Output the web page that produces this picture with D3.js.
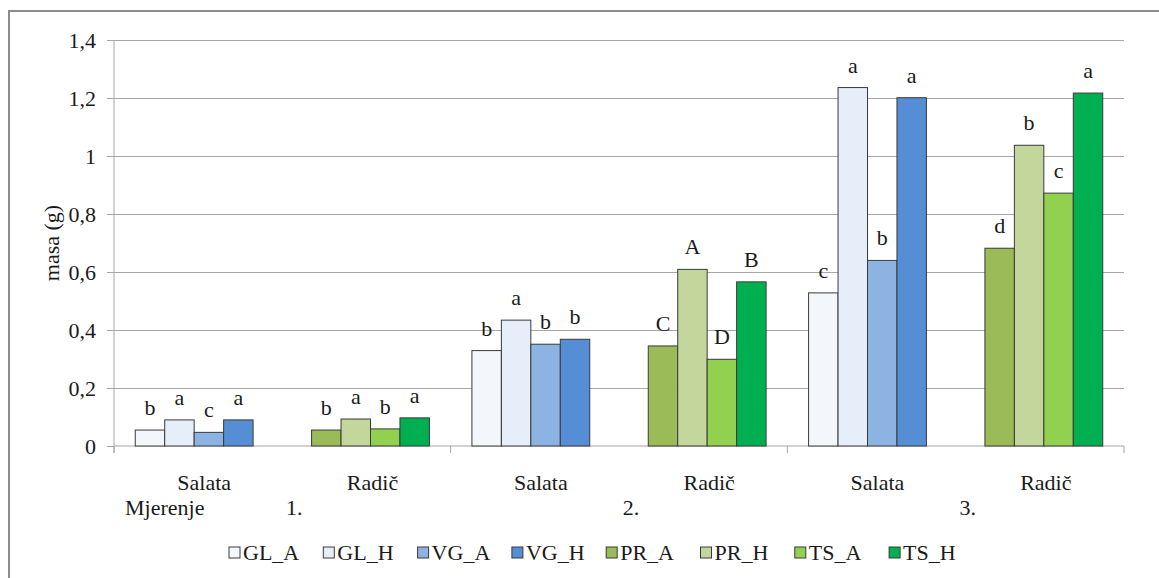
<!DOCTYPE html>
<html lang="hr">
<head>
  <meta charset="UTF-8">
  <title>masa (g) - Salata / Radič</title>
  <script src="https://d3js.org/d3.v7.min.js"></script>
  <style>
    body { margin: 0; background: #fff; }
    svg, svg text { font-family: "Liberation Serif", "Times New Roman", serif; }
    .grid line { stroke: #a6a6a6; stroke-width: 1; }
    .grid .domain { display: none; }
    .yaxis .domain { display: none; }
    .yaxis line { stroke: #a6a6a6; }
    .yaxis text { font-size: 22px; fill: #1a1a1a; }
    .bar { stroke: #3a3a3a; stroke-width: 1; }
    .lbl { font-size: 22px; fill: #1a1a1a; text-anchor: middle; }
  </style>
</head>
<body>
  <svg width="1159" height="578"></svg>

  <script>
    // --- data ---
    const categories = ["Salata", "Radič", "Salata", "Radič", "Salata", "Radič"];
    const measurements = ["1.", "2.", "3."];
    const seriesNames = ["GL_A", "GL_H", "VG_A", "VG_H", "PR_A", "PR_H", "TS_A", "TS_H"];
    const salataSeries = ["GL_A", "GL_H", "VG_A", "VG_H"];
    const radicSeries = ["PR_A", "PR_H", "TS_A", "TS_H"];
    const barValues = [
      [0.055, 0.090, 0.047, 0.090],
      [0.055, 0.093, 0.059, 0.097],
      [0.329, 0.434, 0.351, 0.368],
      [0.345, 0.609, 0.299, 0.566],
      [0.528, 1.236, 0.640, 1.201],
      [0.682, 1.037, 0.872, 1.217]
    ];
    const barLetters = [
      ["b", "a", "c", "a"],
      ["b", "a", "b", "a"],
      ["b", "a", "b", "b"],
      ["C", "A", "D", "B"],
      ["c", "a", "b", "a"],
      ["d", "b", "c", "a"]
    ];
    const yTicks = [0, 0.2, 0.4, 0.6, 0.8, 1, 1.2, 1.4];

    // --- styles ---
    const seriesColors = {
      GL_A: "#f3f7fc", GL_H: "#e6eef9", VG_A: "#8db3e2", VG_H: "#558ed5",
      PR_A: "#9bbb59", PR_H: "#c3d69b", TS_A: "#92d050", TS_H: "#00b050"
    };
    const cropShift = { "Salata": -4, "Radič": 4 };
    const serif = "Liberation Serif, Times New Roman, serif";

    const svg = d3.select("svg");
    const plot = { left: 114, right: 1124, top: 40, bottom: 446 };

    // outer frame (top and left edges visible)
    svg.append("rect")
      .attr("x", 9).attr("y", 11)
      .attr("width", 1200).attr("height", 600)
      .attr("fill", "none").attr("stroke", "#8c8c8c").attr("stroke-width", 2);

    const y = d3.scaleLinear().domain([0, 1.4]).range([plot.bottom, plot.top]);

    const x0 = d3.scaleBand()
      .domain(d3.range(categories.length))
      .range([plot.left, plot.right])
      .paddingInner(0.3)
      .paddingOuter(0.15);

    const x1 = d3.scaleBand()
      .domain(d3.range(4))
      .range([0, x0.bandwidth()]);

    // gridlines
    svg.append("g")
      .attr("class", "grid")
      .attr("transform", `translate(${plot.left},0)`)
      .call(d3.axisLeft(y).tickValues(yTicks.slice(1)).tickSize(-(plot.right - plot.left)).tickFormat(""));

    // y axis ticks + labels
    svg.append("g")
      .attr("class", "yaxis")
      .attr("transform", `translate(${plot.left},0)`)
      .call(d3.axisLeft(y).tickValues(yTicks).tickSize(7).tickPadding(11)
        .tickFormat(v => String(v).replace(".", ",")))
      .attr("font-family", serif)
      .attr("font-size", 22);

    // axis lines
    svg.append("line")
      .attr("x1", plot.left).attr("x2", plot.left)
      .attr("y1", y(1.4)).attr("y2", y(0) + 7)
      .attr("stroke", "#a6a6a6");
    svg.append("line")
      .attr("x1", plot.left).attr("x2", plot.right)
      .attr("y1", y(0)).attr("y2", y(0))
      .attr("stroke", "#a6a6a6");

    // ticks between measurements
    const step = x0.step();
    svg.append("g").selectAll("line")
      .data(d3.range(measurements.length + 1))
      .join("line")
      .attr("x1", i => plot.left + i * 2 * step)
      .attr("x2", i => plot.left + i * 2 * step)
      .attr("y1", y(0)).attr("y2", y(0) + 7)
      .attr("stroke", "#a6a6a6");

    // bars
    const groups = svg.append("g").selectAll("g")
      .data(categories.map((c, i) => ({ crop: c, idx: i })))
      .join("g")
      .attr("transform", d => `translate(${x0(d.idx) + cropShift[d.crop]},0)`);

    groups.each(function (g) {
      const names = g.crop === "Salata" ? salataSeries : radicSeries;
      const rows = barValues[g.idx].map((v, j) => ({ v, j, name: names[j], letter: barLetters[g.idx][j] }));
      const sel = d3.select(this);
      sel.selectAll("rect")
        .data(rows)
        .join("rect")
        .attr("class", "bar")
        .attr("x", d => x1(d.j))
        .attr("width", x1.bandwidth())
        .attr("y", d => y(d.v))
        .attr("height", d => y(0) - y(d.v))
        .attr("fill", d => seriesColors[d.name]);
      sel.selectAll("text")
        .data(rows)
        .join("text")
        .attr("class", "lbl")
        .attr("font-family", serif)
        .attr("x", d => x1(d.j) + x1.bandwidth() / 2)
        .attr("y", d => y(d.v) - 15)
        .text(d => d.letter);
    });

    // category labels
    svg.append("g").selectAll("text")
      .data(categories)
      .join("text")
      .attr("class", "lbl")
      .attr("font-family", serif)
      .attr("x", (c, i) => x0(i) + x0.bandwidth() / 2 + 6)
      .attr("y", 490)
      .text(c => c);

    svg.append("g").selectAll("text")
      .data(measurements)
      .join("text")
      .attr("class", "lbl")
      .attr("font-family", serif)
      .attr("x", (m, i) => plot.left + (2 * i + 1) * step + 12)
      .attr("y", 515)
      .text(m => m);

    svg.append("text")
      .attr("class", "lbl")
      .attr("font-family", serif)
      .style("text-anchor", "start")
      .attr("x", 125).attr("y", 515)
      .text("Mjerenje");

    // y axis title
    svg.append("text")
      .attr("class", "lbl")
      .attr("font-family", serif)
      .attr("transform", `translate(59,${(plot.top + plot.bottom) / 2}) rotate(-90)`)
      .text("masa (g)");

    // legend
    const legend = svg.append("g").selectAll("g")
      .data(seriesNames)
      .join("g")
      .attr("transform", (s, i) => `translate(${229 + i * 94.3},547)`);
    legend.append("rect")
      .attr("width", 11).attr("height", 11)
      .attr("fill", s => seriesColors[s])
      .attr("stroke", "#3a3a3a");
    legend.append("text")
      .attr("class", "lbl")
      .attr("font-family", serif)
      .style("text-anchor", "start")
      .attr("x", 14).attr("y", 13)
      .text(s => s);
  </script>
</body>
</html>
